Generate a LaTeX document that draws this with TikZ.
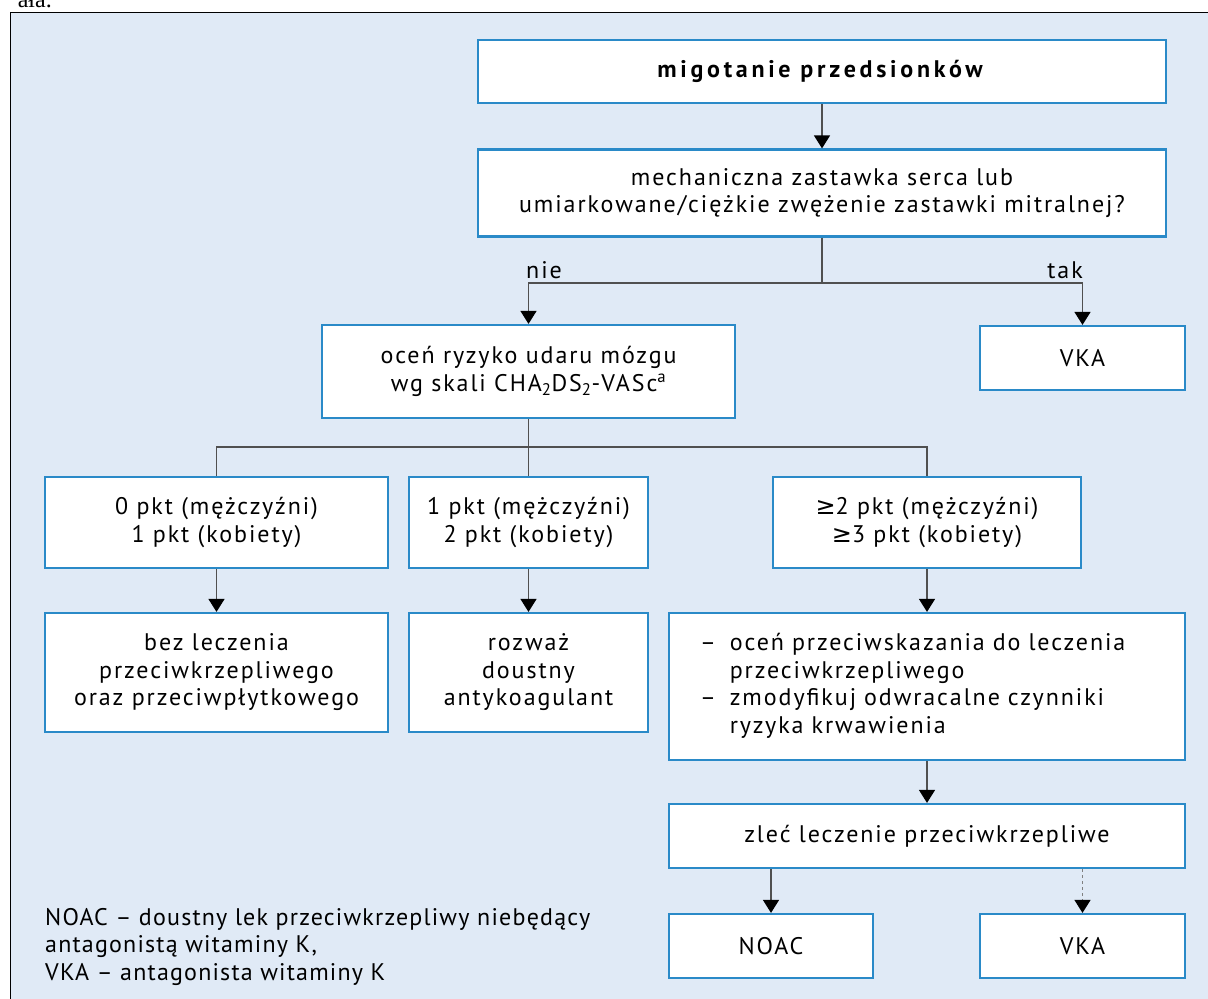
\documentclass[tikz,border=0pt]{standalone}
\usepackage{fontspec}
\setmainfont{PT Sans}[LetterSpace=8, BoldFeatures={LetterSpace=15.5}]
\newfontfamily\legf{PT Sans}[LetterSpace=5]
\newfontfamily\symf{DejaVu Sans}
\newfontfamily\seriff{Liberation Serif}
\usetikzlibrary{arrows.meta}
\definecolor{bg}{HTML}{E0EAF6}
\definecolor{bblue}{HTML}{2A8AC8}
\definecolor{lgray}{HTML}{505050}
\begin{document}
\begin{tikzpicture}[x=1pt,y=-1pt,
  box/.style={draw=bblue, line width=2.2pt, fill=white, inner sep=0pt, align=center,
    font=\fontsize{24}{27.5}\selectfont},
  lbl/.style={inner sep=0pt, font=\fontsize{24}{27.5}\selectfont},
  conn/.style={draw=lgray, line width=1.3pt},
  arr/.style={conn, -{Triangle[width=16pt,length=13pt,black]}},
  dasharr/.style={arr, dash pattern=on 3pt off 3pt, draw=gray},
]
\useasboundingbox (0,0) rectangle (1208,999);
\begin{scope}
\clip (0,0) rectangle (1208,999);
\fill[white] (0,0) rectangle (1208,999);
\draw[fill=bg, line width=1pt] (10,12) rectangle (1240,1030);
\node[anchor=base east, inner sep=0pt, font=\seriff\fontsize{24}{24}\selectfont] (frag) at (52,7) {ała.};
\end{scope}

\node[box, minimum width=688, minimum height=63] (b1) at (822,71.5) {\textbf{migotanie przedsionków}};
\node[box, minimum width=688, minimum height=87] (b2) at (822,193) {mechaniczna zastawka serca lub\\umiarkowane/ciężkie zwężenie zastawki mitralnej?};
\node[box, minimum width=413, minimum height=93] (b3) at (528.5,371.5) {oceń ryzyko udaru mózgu\\wg skali CHA\textsubscript{2}DS\textsubscript{2}-VASc\textsuperscript{a}};
\node[box, minimum width=205, minimum height=64] (vka1) at (1082.5,358) {VKA};
\node[box, minimum width=343, minimum height=91] (bA) at (216.5,522.5) {0 pkt (mężczyźni)\\1 pkt (kobiety)};
\node[box, minimum width=239, minimum height=91] (bB) at (528.5,522.5) {1 pkt (mężczyźni)\\2 pkt (kobiety)};
\node[box, minimum width=308, minimum height=91] (bC) at (927,522.5) {{\symf ≥}2 pkt (mężczyźni)\\{\symf ≥}3 pkt (kobiety)};
\node[box, minimum width=343, minimum height=119] (bA2) at (216.5,672.5) {bez leczenia\\przeciwkrzepliwego\\oraz przeciwpłytkowego};
\node[box, minimum width=239, minimum height=119] (bB2) at (528.5,672.5) {rozważ\\doustny\\antykoagulant};
\node[box, minimum width=516, minimum height=147, text width=454, align=left] (bD) at (927,686.5)
  {\noindent\begin{tabular}{@{}l@{\hspace{14pt}}l@{}}–&oceń przeciwskazania do leczenia\\ &przeciwkrzepliwego\\–&zmodyfikuj odwracalne czynniki\\ &ryzyka krwawienia\end{tabular}};
\node[box, minimum width=516, minimum height=64] (bE) at (927,836) {zleć leczenie przeciwkrzepliwe};
\node[box, minimum width=204, minimum height=64] (noac) at (771,946) {NOAC};
\node[box, minimum width=205, minimum height=64] (vka2) at (1082.5,946) {VKA};

\node[lbl, anchor=west] (nie) at (526,270) {nie};
\node[lbl, anchor=east] (tak) at (1083,270) {tak};
\node[lbl, anchor=north west, align=left, font=\legf\fontsize{24}{27.5}\selectfont] (leg) at (45,908)
  {NOAC – doustny lek przeciwkrzepliwy niebędący\\antagonistą witaminy K,\\VKA – antagonista witaminy K};

\draw[arr] (b1.south) -- (b2.north);
\coordinate (j1) at (822,283);
\draw[conn] (b2.south) -- (j1);
\draw[arr] (j1) -| (b3.north);
\draw[arr] (j1) -| (vka1.north);
\coordinate (j2) at (528.5,447);
\draw[conn] (b3.south) -- (bB.north);
\draw[conn] (j2) -| (bA.north);
\draw[conn] (j2) -| (bC.north);
\draw[arr] (bA.south) -- (bA2.north);
\draw[arr] (bB.south) -- (bB2.north);
\draw[arr] (bC.south) -- (bD.north);
\draw[arr] (bD.south) -- (bE.north);
\draw[arr] (noac.north |- bE.south) -- (noac.north);
\draw[dasharr] (vka2.north |- bE.south) -- (vka2.north);
\end{tikzpicture}
\end{document}
